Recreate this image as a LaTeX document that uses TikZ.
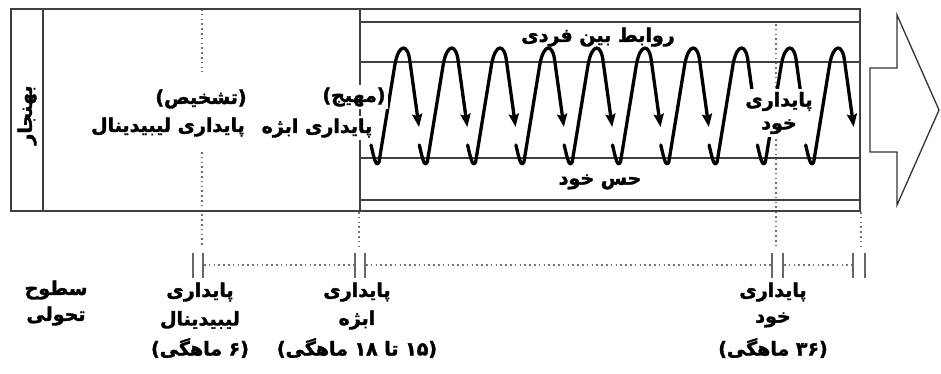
\documentclass[tikz,border=0pt]{standalone}
\usepackage{fontspec}
\usetikzlibrary{arrows.meta}
\TeXXeTstate=1
\newfontfamily\fab[Script=Arabic,FakeBold=1.8]{DejaVu Sans Bold}
\tikzset{
  boxline/.style={draw=black!75, line width=1.6pt},
  dotline/.style={draw=black!55, line width=1.8pt, dash pattern=on 1.6pt off 3.2pt},
  tickline/.style={draw=black!60, line width=1.8pt},
  spring/.style={draw=black, line width=3.3pt, line cap=round, line join=round,
     -{Stealth[length=13pt,width=10pt,inset=2pt]}},
  lbl/.style={font=\fab\fontsize{19}{25}\selectfont, inner sep=1pt, text=black},
  wlbl/.style={lbl, fill=white, inner sep=2pt},
}
\begin{document}
\begin{tikzpicture}[x=1pt,y=-1pt]
\useasboundingbox[fill=white] (0,0) rectangle (941,373);

% dotted verticals
\coordinate (d1t) at (202,9);   \coordinate (d1m) at (202,72);
\coordinate (d1n) at (202,152); \coordinate (d1b) at (202,246);
\coordinate (d2t) at (359,212); \coordinate (d2b) at (359,246);
\coordinate (d3t) at (776,24);  \coordinate (d3b) at (776,246);
\coordinate (d4t) at (861,212); \coordinate (d4b) at (861,246);
\draw[dotline] (d1t) -- (d1m);
\draw[dotline] (d1n) -- (d1b);
\draw[dotline] (d2t) -- (d2b);
\draw[dotline] (d3t) -- (d3b);
\draw[dotline] (d4t) -- (d4b);

% main box
\draw[boxline] (11,9) rectangle (860,211);
\draw[boxline] (43,9) -- (43,211);
\draw[boxline] (360,9) -- (360,211);
\foreach \yy in {22,62,158,200}{\draw[boxline] (360,\yy) -- (860,\yy);}

% big arrow
\draw[draw=black!80, line width=1.3pt, line join=miter]
  (870,68) -- (897,68) -- (897,15) -- (939,110) -- (897,205) -- (897,152) -- (870,152) -- cycle;

% spring
\foreach \i in {0,...,9}{
  \pgfmathsetmacro\xb{377+48.3*\i}
  \draw[spring] (\xb-6,145) .. controls (\xb-3,158) and (\xb-1,168) .. (\xb+2,162)
     -- (\xb+18,64) .. controls (\xb+22,43) and (\xb+31,43) .. (\xb+33,62) -- (\xb+42,127);
}

% labels in box
\node[lbl, rotate=90] (norm) at (27,115) {\beginR بهنجار\endR};
\node[wlbl] (tash) at (201,99) {\beginR (تشخیص)\endR};
\node[wlbl] (plib) at (168,127) {\beginR پایداری لیبیدینال\endR};
\node[wlbl] (mohij) at (354,97) {\beginR (مهیج)\endR};
\node[wlbl] (pobj) at (317,128) {\beginR پایداری ابژه\endR};
\node[lbl] (rav) at (598,37) {\beginR روابط بین فردی\endR};
\node[lbl] (hes) at (600,182) {\beginR حس خود\endR};
\node[wlbl, align=center, inner sep=3pt] (pself) at (779,113)
  {\beginR پایداری\endR\\[-2pt]\beginR خود\endR};

% timeline
\foreach \a/\b in {193/203,355/365,772/783,853/865}{
  \draw[tickline] (\a,253) -- (\a,278);
  \draw[tickline] (\b,253) -- (\b,278);
}
\coordinate (h1a) at (204,265); \coordinate (h1b) at (354,265);
\coordinate (h2a) at (366,265); \coordinate (h2b) at (771,265);
\coordinate (h3a) at (784,265); \coordinate (h3b) at (852,265);
\draw[dotline] (h1a) -- (h1b);
\draw[dotline] (h2a) -- (h2b);
\draw[dotline] (h3a) -- (h3b);

% bottom labels
\node[lbl] (s1) at (56,290) {\beginR سطوح\endR};
\node[lbl] (s2) at (56,316) {\beginR تحولی\endR};
\node[lbl] (l1) at (200,292) {\beginR پایداری\endR};
\node[lbl] (l2) at (200,320) {\beginR لیبیدینال\endR};
\node[lbl] (l3) at (200,348) {\beginR (۶ ماهگی)\endR};
\node[lbl] (o1) at (357,292) {\beginR پایداری\endR};
\node[lbl] (o2) at (357,320) {\beginR ابژه\endR};
\node[lbl] (o3) at (357,348) {\beginR (۱۵ تا ۱۸ ماهگی)\endR};
\node[lbl] (x1) at (773,292) {\beginR پایداری\endR};
\node[lbl] (x2) at (773,320) {\beginR خود\endR};
\node[lbl] (x3) at (773,348) {\beginR (۳۶ ماهگی)\endR};
\end{tikzpicture}
\end{document}
